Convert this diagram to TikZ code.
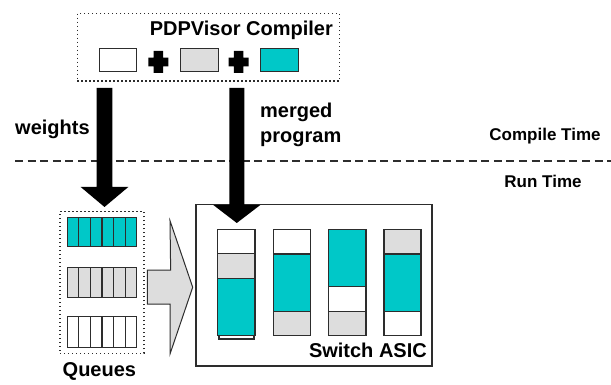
\documentclass[tikz,border=0pt]{standalone}
\usepackage{fontspec}
\setmainfont{Liberation Sans}
\usetikzlibrary{calc}
\definecolor{cteal}{RGB}{0,200,200}
\definecolor{cgray}{RGB}{221,221,221}
\definecolor{cedge}{RGB}{45,45,45}
\begin{document}
\begin{tikzpicture}[x=1pt,y=-1pt,
  lbl/.style={font=\bfseries\fontsize{20}{22}\selectfont, inner sep=0pt},
  tlbl/.style={font=\bfseries\fontsize{17}{19}\selectfont, inner sep=0pt},
  dotbox/.style={draw=cedge, line width=1.3pt, dash pattern=on 1.3pt off 2.7pt, inner sep=0pt},
  solidbox/.style={draw=cedge, line width=1.2pt, inner sep=0pt},
  cell/.style={draw=cedge, line width=1.1pt},
  fatarrow/.style={fill=black},
  plus/.style={fill=black}
]
\useasboundingbox (0,0) rectangle (611,385);

% compiler box
\node[dotbox, minimum width=262pt, minimum height=67.7pt] (comp) at (208.3,47.2) {};
\node[lbl, anchor=base east] (comptxt) at (333,36) {PDPVisor Compiler};
\node[cell, fill=white, minimum width=37.4pt, minimum height=23.4pt, inner sep=0pt] (pw) at (118,60) {};
\node[cell, fill=cgray, minimum width=38.3pt, minimum height=23.4pt, inner sep=0pt] (pg) at (199.2,60) {};
\node[cell, fill=cteal, minimum width=37.6pt, minimum height=23.4pt, inner sep=0pt] (pt) at (279.5,60) {};
% plus signs
\foreach \cx/\nm in {158.3/p1, 238.6/p2}{
  \coordinate (\nm) at (\cx,62);
  \fill[plus] ($(\nm)+(-4.8,-11)$) -- ($(\nm)+(4.8,-11)$) -- ($(\nm)+(4.8,-4.3)$) -- ($(\nm)+(10,-4.3)$)
    -- ($(\nm)+(10,4.3)$) -- ($(\nm)+(4.8,4.3)$) -- ($(\nm)+(4.8,11)$) -- ($(\nm)+(-4.8,11)$)
    -- ($(\nm)+(-4.8,4.3)$) -- ($(\nm)+(-10,4.3)$) -- ($(\nm)+(-10,-4.3)$) -- ($(\nm)+(-4.8,-4.3)$) -- cycle;
}

% labels
\node[lbl, anchor=base west] (wl) at (15,135) {weights};
\node[lbl, anchor=base west] (ml1) at (260,118) {merged};
\node[lbl, anchor=base west] (ml2) at (260,142.5) {program};
\node[tlbl, anchor=base] (ct) at (545,140.7) {Compile Time};
\node[tlbl, anchor=base] (rt) at (543,188) {Run Time};

% dashed divider
\coordinate (dl) at (15,161);
\coordinate (dr) at (611,161);
\draw[cedge, line width=1.2pt, dash pattern=on 8pt off 4.6pt] (dl) -- (dr);

% queues
\node[dotbox, minimum width=84pt, minimum height=141.6pt] (qbox) at (102,282.5) {};
\foreach \yt/\yb/\col/\nm in {217.3/246.7/cteal/q1, 267.3/297.3/cgray/q2, 316.7/347.3/white/q3}{
  \filldraw[cell, fill=\col] (67.3,\yt) rectangle (136.7,\yb);
  \foreach \i in {1,...,5}{
    \draw[cell] ({67.3+\i*69.4/6},\yt) -- ({67.3+\i*69.4/6},\yb);
  }
}
\node[lbl, anchor=base west] (ql) at (62.5,376.7) {Queues};

% switch
\node[solidbox, minimum width=236pt, minimum height=161.5pt] (sw) at (314,285.25) {};
\node[lbl, anchor=base east] (swl) at (427,357.3) {Switch ASIC};

% column 1 (with small sliver)
\filldraw[cell, fill=white] (219,335.7) rectangle (254,339);
\filldraw[cell, fill=white] (217.7,229.3) rectangle (255,253.3);
\filldraw[cell, fill=cgray] (217.7,253.3) rectangle (255,278.3);
\filldraw[cell, fill=cteal] (217.7,278.3) rectangle (255,335.7);
\coordinate (c1top) at (236.4,229.3);
% column 2
\filldraw[cell, fill=white] (273.3,229.3) rectangle (310.7,254);
\filldraw[cell, fill=cteal] (273.3,254) rectangle (310.7,311.7);
\filldraw[cell, fill=cgray] (273.3,311.7) rectangle (310.7,335.7);
% column 3
\filldraw[cell, fill=cteal] (328.3,229.3) rectangle (366,286.7);
\filldraw[cell, fill=white] (328.3,286.7) rectangle (366,311.7);
\filldraw[cell, fill=cgray] (328.3,311.7) rectangle (366,335.7);
% column 4
\filldraw[cell, fill=cgray] (384,229.3) rectangle (421,254);
\filldraw[cell, fill=cteal] (384,254) rectangle (421,311.7);
\filldraw[cell, fill=white] (384,311.7) rectangle (421,335.7);

% big gray arrow from queues to switch
\filldraw[fill=cgray, draw=cedge, line width=1pt, line join=miter]
  ($(qbox.east)+(2.7,-12.5)$) -- ++(23.3,0) -- (170,220.7) -- ($(sw.west)+(-2.7,2)$)
  -- (170,354) -- (170,304) -- ($(qbox.east)+(2.7,21.5)$) -- cycle;

% fat arrows
\coordinate (wtop) at (104.5,88);
\coordinate (wtip) at (104.5,207);
\fill[fatarrow] ($(wtop)+(-7.8,0)$) -- ($(wtop)+(7.8,0)$) -- ($(wtip)+(7.8,-20)$) -- ($(wtip)+(23.8,-20)$)
  -- (wtip) -- ($(wtip)+(-23.8,-20)$) -- ($(wtip)+(-7.8,-20)$) -- cycle;
\coordinate (mtop) at (236.8,88);
\coordinate (mtip) at (236.8,223);
\fill[fatarrow] ($(mtop)+(-7.5,0)$) -- ($(mtop)+(7.5,0)$) -- ($(mtip)+(7.5,-18)$) -- ($(mtip)+(23.5,-18)$)
  -- (mtip) -- ($(mtip)+(-23.5,-18)$) -- ($(mtip)+(-7.5,-18)$) -- cycle;
\end{tikzpicture}
\end{document}
